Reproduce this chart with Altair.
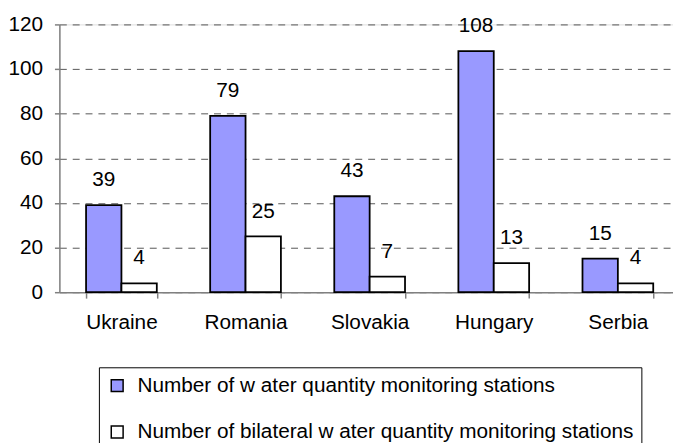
import altair as alt
import pandas as pd

countries = ["Ukraine", "Romania", "Slovakia", "Hungary", "Serbia"]
series_names = [
    "Number of w ater quantity monitoring stations",
    "Number of bilateral w ater quantity monitoring stations",
]
stations = [39, 79, 43, 108, 15]
bilateral = [4, 25, 7, 13, 4]
y_ticks = [0, 20, 40, 60, 80, 100, 120]
colors = ["#9999FF", "#FFFFFF"]

rows = []
for c, a, b in zip(countries, stations, bilateral):
    rows.append({"Country": c, "Series": series_names[0], "Value": a})
    rows.append({"Country": c, "Series": series_names[1], "Value": b})
df = pd.DataFrame(rows)

FONT = "Liberation Sans"
FS = 21

base = alt.Chart(df).encode(
    x=alt.X(
        "Country:N",
        sort=countries,
        scale=alt.Scale(range=[0, 628], paddingInner=0.43, paddingOuter=0.215),
        axis=alt.Axis(
            title=None,
            labelAngle=0,
            tickBand="extent",
            grid=False,
            domainColor="#808080",
            domainWidth=1.5,
            tickColor="#808080",
            tickWidth=1.5,
            tickSize=6,
            labelFontSize=FS,
            labelFont=FONT,
            labelColor="black",
            labelPadding=14,
        ),
    ),
    xOffset=alt.XOffset(
        "Series:N",
        sort=series_names,
        scale=alt.Scale(paddingInner=0, paddingOuter=0),
    ),
    y=alt.Y(
        "Value:Q",
        scale=alt.Scale(domain=[0, 120], nice=False),
        axis=alt.Axis(
            title=None,
            values=y_ticks,
            grid=True,
            gridDash=[7, 6],
            gridColor="#555555",
            gridWidth=1,
            domainColor="#808080",
            domainWidth=1.5,
            tickColor="#808080",
            tickWidth=1.5,
            tickSize=5,
            labelFontSize=FS,
            labelFont=FONT,
            labelColor="black",
            labelPadding=12,
        ),
    ),
)

bars = base.mark_bar(stroke="black", strokeWidth=1.8).encode(
    color=alt.Color(
        "Series:N",
        sort=series_names,
        scale=alt.Scale(domain=series_names, range=colors),
        legend=alt.Legend(
            title=None,
            orient="none",
            legendX=40,
            legendY=347,
            direction="vertical",
            strokeColor="black",
            fillColor="white",
            padding=8,
            symbolType="square",
            symbolSize=144,
            symbolStrokeColor="black",
            symbolStrokeWidth=1.5,
            symbolOpacity=1,
            labelFontSize=FS,
            labelFont=FONT,
            labelColor="black",
            labelOffset=10,
            rowPadding=25,
            labelLimit=1000,
        ),
    )
)

labels = base.mark_text(
    dy=-19, baseline="alphabetic", fontSize=FS, font=FONT, color="black"
).encode(text="Value:Q")

chart = (
    alt.layer(bars, labels)
    .properties(
        width=621,
        height=271,
        autosize=alt.AutoSizeParams(type="none"),
        padding={"left": 52, "top": 14, "right": 0, "bottom": 150},
    )
    .configure_view(stroke=None)
    .configure(font=FONT)
)

chart.save("out.html", embed_options={"renderer": "svg", "actions": False})
